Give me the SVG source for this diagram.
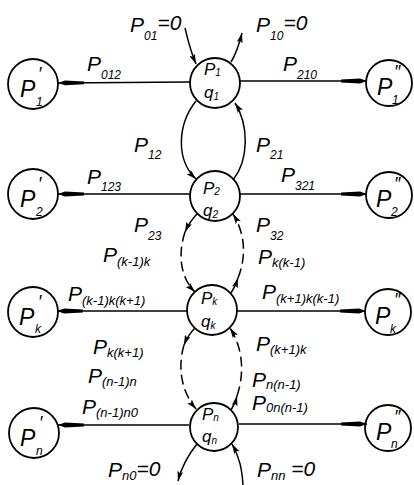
<svg xmlns="http://www.w3.org/2000/svg" width="414" height="485" viewBox="0 0 414 485">
<style>
.n{fill:none;stroke:#000;stroke-width:1.8}
.c{fill:none;stroke:#000;stroke-width:1.5}
.d{fill:none;stroke:#000;stroke-width:1.5;stroke-dasharray:10 5}
.h{fill:none;stroke:#000;stroke-width:1.4}
text{font-family:"Liberation Sans",Arial,sans-serif;font-style:italic;fill:#000}
.L{font-size:21px}
.s{font-size:12px}
.p{font-size:13px}
.pr{font-size:18px}
.m{font-size:17px}
.ms{font-size:10px}
.b{font-size:23px}
</style>
<defs>
<marker id="ah" viewBox="0 0 26 6" markerWidth="26" markerHeight="6" refX="26" refY="3" orient="auto" markerUnits="userSpaceOnUse"><path d="M0,1.6 L19,0.6 L26,3 L19,5.4 L0,4.4 z" fill="#000"/></marker>
<marker id="a" viewBox="0 0 10 6" markerWidth="10" markerHeight="6" refX="10" refY="3" orient="auto" markerUnits="userSpaceOnUse"><path d="M0,0 L10,3 L0,6 L2,3 z" fill="#000"/></marker>
</defs>
<g id="connectors">
<line class="h" x1="190" y1="82" x2="58" y2="83" marker-end="url(#ah)"/>
<line class="h" x1="240" y1="81" x2="367" y2="81" marker-end="url(#ah)"/>
<line class="h" x1="190" y1="194" x2="58" y2="194" marker-end="url(#ah)"/>
<line class="h" x1="240" y1="194" x2="367" y2="194" marker-end="url(#ah)"/>
<line class="h" x1="187" y1="311" x2="57" y2="311" marker-end="url(#ah)"/>
<line class="h" x1="237" y1="311" x2="366" y2="311" marker-end="url(#ah)"/>
<line class="h" x1="189" y1="425" x2="58" y2="425" marker-end="url(#ah)"/>
<line class="h" x1="239" y1="424" x2="367" y2="424" marker-end="url(#ah)"/>
<path class="c" d="M185,28 C188,40 190,50 196,64" marker-end="url(#a)"/>
<path class="c" d="M231,62 C236,54 239,45 242,33" marker-end="url(#a)"/>
<path class="c" d="M196,101 C177,125 176,160 196,179" marker-end="url(#a)"/>
<path class="c" d="M233,180 C249,160 249,125 235,103" marker-end="url(#a)"/>
<path class="c" d="M197,214 Q190,221 185,232" marker-end="url(#a)"/>
<path class="d" d="M185,232 C179,250 178,275 195,292" marker-end="url(#a)"/>
<path class="c" d="M231,293 Q235,287 238,278" marker-end="url(#a)"/>
<path class="d" d="M238,278 C246,258 246,235 233,214" marker-end="url(#a)"/>
<path class="c" d="M195,328 Q188,335 184,345" marker-end="url(#a)"/>
<path class="d" d="M184,345 C178,365 180,390 196,409" marker-end="url(#a)"/>
<path class="c" d="M231,410 Q235,404 237,396" marker-end="url(#a)"/>
<path class="d" d="M237,396 C244,375 244,350 230,328" marker-end="url(#a)"/>
<path class="c" d="M197,444 C188,455 182,465 178,481" marker-end="url(#a)"/>
<path class="c" d="M243,485 C242,470 240,458 232,444" marker-end="url(#a)"/>
</g>
<g id="node1"><circle class="n" cx="215" cy="83" r="25"/><text class="m" x="204" y="75">P<tspan class="ms" dy="1">1</tspan></text><text class="m" x="204" y="98">q<tspan class="ms" dy="2">1</tspan></text></g>
<g id="node2"><circle class="n" cx="215" cy="196" r="25"/><text class="m" x="203" y="194">P<tspan class="ms" dy="1">2</tspan></text><text class="m" x="203" y="216">q<tspan class="ms" dy="2">2</tspan></text></g>
<g id="nodek"><circle class="n" cx="212" cy="310" r="25"/><text class="m" x="201" y="304">P<tspan class="ms" dy="1">k</tspan></text><text class="m" x="201" y="327">q<tspan class="ms" dy="2">k</tspan></text></g>
<g id="noden"><circle class="n" cx="214" cy="427" r="24"/><text class="m" x="202" y="420">P<tspan class="ms" dy="1">n</tspan></text><text class="m" x="202" y="442">q<tspan class="ms" dy="2">n</tspan></text></g>
<g id="l1"><circle class="n" cx="33" cy="84" r="25"/><text class="b" x="20" y="97">P<tspan class="pr" x="38" y="80">′</tspan><tspan class="s" x="36" y="106">1</tspan></text></g>
<g id="l2"><circle class="n" cx="33" cy="194" r="25"/><text class="b" x="20" y="207">P<tspan class="pr" x="38" y="190">′</tspan><tspan class="s" x="36" y="216">2</tspan></text></g>
<g id="lk"><circle class="n" cx="33" cy="312" r="25"/><text class="b" x="19" y="325">P<tspan class="pr" x="38" y="308">′</tspan><tspan class="s" x="35" y="333">k</tspan></text></g>
<g id="ln"><circle class="n" cx="34" cy="433" r="25"/><text class="b" x="20" y="446">P<tspan class="pr" x="39" y="429">′</tspan><tspan class="s" x="36" y="455">n</tspan></text></g>
<g id="r1"><circle class="n" cx="389" cy="83" r="23"/><text class="b" x="377" y="95">P<tspan class="pr" x="394" y="78">″</tspan><tspan class="s" x="392" y="104">1</tspan></text></g>
<g id="r2"><circle class="n" cx="389" cy="195" r="23"/><text class="b" x="376" y="207">P<tspan class="pr" x="394" y="190">″</tspan><tspan class="s" x="391" y="216">2</tspan></text></g>
<g id="rk"><circle class="n" cx="388" cy="312" r="23"/><text class="b" x="375" y="324">P<tspan class="pr" x="394" y="306">″</tspan><tspan class="s" x="390" y="333">k</tspan></text></g>
<g id="rn"><circle class="n" cx="388" cy="428" r="23"/><text class="b" x="376" y="440">P<tspan class="pr" x="394" y="423">″</tspan><tspan class="s" x="391" y="448">n</tspan></text></g>
<g id="labels">
<text class="L" x="130" y="32">P<tspan class="s" dy="8">01</tspan><tspan dy="-10">=0</tspan></text>
<text class="L" x="256" y="32">P<tspan class="s" dy="8">10</tspan><tspan dy="-10">=0</tspan></text>
<text class="L" x="87" y="71">P<tspan class="s" dy="8">012</tspan></text>
<text class="L" x="283" y="71">P<tspan class="s" dy="8">210</tspan></text>
<text class="L" x="134" y="152">P<tspan class="s" dy="7">12</tspan></text>
<text class="L" x="256" y="152">P<tspan class="s" dy="7">21</tspan></text>
<text class="L" x="87" y="184">P<tspan class="s" dy="7">123</tspan></text>
<text class="L" x="281" y="182">P<tspan class="s" dy="8">321</tspan></text>
<text class="L" x="134" y="232">P<tspan class="s" dy="8">23</tspan></text>
<text class="L" x="256" y="232">P<tspan class="s" dy="8">32</tspan></text>
<text class="L" x="103" y="262">P<tspan class="p" dy="4">(k-1)k</tspan></text>
<text class="L" x="68" y="301">P<tspan class="p" dy="4">(k-1)k(k+1)</tspan></text>
<text class="L" x="93" y="354">P<tspan class="p" dy="3">k(k+1)</tspan></text>
<text class="L" x="258" y="264">P<tspan class="p" dy="3">k(k-1)</tspan></text>
<text class="L" x="262" y="299">P<tspan class="p" dy="4">(k+1)k(k-1)</tspan></text>
<text class="L" x="256" y="351">P<tspan class="p" dy="3">(k+1)k</tspan></text>
<text class="L" x="88" y="383">P<tspan class="p" dy="3">(n-1)n</tspan></text>
<text class="L" x="82" y="414">P<tspan class="p" dy="3">(n-1)n0</tspan></text>
<text class="L" x="252" y="387">P<tspan class="p" dy="2">n(n-1)</tspan></text>
<text class="L" x="252" y="410">P<tspan class="p" dy="2">0n(n-1)</tspan></text>
<text class="L" x="108" y="477">P<tspan class="p" dy="3">n0</tspan><tspan dy="-4">=0</tspan></text>
<text class="L" x="257" y="477">P<tspan class="p" dy="3">nn</tspan><tspan dy="-4"> =0</tspan></text>
</g>
</svg>
